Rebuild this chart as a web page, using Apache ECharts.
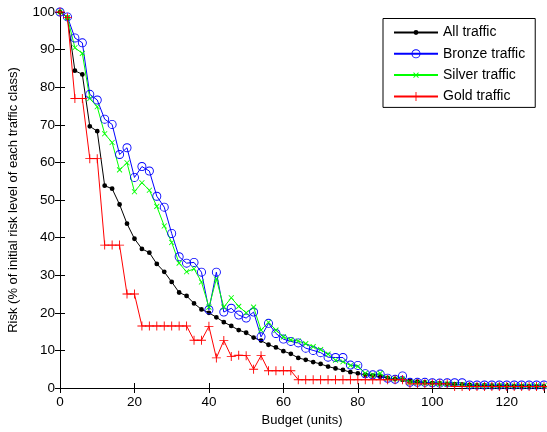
<!DOCTYPE html>
<html>
<head>
<meta charset="utf-8">
<script src="https://cdn.jsdelivr.net/npm/echarts@6/dist/echarts.min.js"></script>
<style>
html,body{margin:0;padding:0;background:#fff;}
#chart{width:547px;height:432px;}
</style>
</head>
<body>
<div id="chart"></div>
<script>
const budget = [0,2,4,6,8,10,12,14,16,18,20,22,24,26,28,30,32,34,36,38,40,42,44,46,48,50,52,54,56,58,60,62,64,66,68,70,72,74,76,78,80,82,84,86,88,90,92,94,96,98,100,102,104,106,108,110,112,114,116,118,120,122,124,126,128,130];
const allTraffic = [100,98.5,84.4,83.4,69.6,68.3,53.8,53,48.8,43.7,
  39.7,37,36,33,30.9,28.2,25.4,24.5,22.5,20.9,
  20,18.8,17.5,16.5,15.4,14.7,13.4,12.6,11.5,10.8,
  9.8,9.1,8,7.5,6.9,6.4,5.7,5.2,4.8,4.2,
  3.9,3.5,3.3,3.0,2.7,2.4,2.2,1.9,1.7,1.5,
  1.3,1.2,1.1,1.0,0.9,0.8,0.7,0.7,0.6,0.6,
  0.5,0.5,0.5,0.4,0.4,0.4];
const bronze = [100,98.7,93.1,91.8,78.1,76.6,71.5,70.1,62.1,63.9,
  56,58.9,57.7,51,48.1,41.1,34.9,33.2,33.4,30.8,
  20.8,30.8,20.2,21.2,19.4,18.6,20.2,13.6,17.2,14.5,
  13,12.4,12,10.6,10,9.4,8.2,8.1,8.1,6.1,
  6.0,3.8,3.5,3.7,2.6,2.3,3.2,1.5,1.5,1.5,
  1.4,1.3,1.4,1.4,1.4,0.8,0.8,0.8,0.8,0.8,
  0.8,0.8,0.8,0.8,0.8,0.8];
const silver = [100,98.5,90.5,89,77,74.8,67.6,65.3,58,59.9,
  52.2,54.6,52.6,48.3,43.1,38.7,33.2,30.9,31.7,28.2,
  21.5,29,21.5,24,21.7,20,21.5,15.4,17.5,15.4,
  13.6,12.8,12.5,11.8,11,10.2,9,7.4,7,6,
  5.7,3.9,3.5,3.9,2.6,2.4,2.4,1.5,1.4,1.3,
  1.2,1.1,1.1,1.0,0.9,0.6,0.6,0.6,0.6,0.6,
  0.6,0.6,0.6,0.6,0.6,0.6];
const gold = [100,98.5,77,77,61,61,38,38,38,25,
  25,16.5,16.5,16.5,16.5,16.5,16.5,16.5,12.7,12.7,
  16.4,8,12.6,8.4,8.7,8.6,5,8.6,4.6,4.6,
  4.6,4.6,2.2,2.2,2.2,2.2,2.2,2.2,2.2,2.2,
  2.2,2.2,2.2,2.2,2.2,2.2,2.2,1.1,1.1,1.1,
  1.1,1.1,1.1,0.4,0.4,0.4,0.4,0.4,0.4,0.4,
  0.4,0.4,0.4,0.4,0.4,0.4];
const seriesNames = ['All traffic','Bronze traffic','Silver traffic','Gold traffic'];
const xLabel = 'Budget (units)';
const yLabel = 'Risk (% of initial risk level of each traffic class)';

const FONT = "'Liberation Sans', Arial, sans-serif";
// marker shapes drawn in a 10x10 box (corner anchors keep the box size)
const corners = 'M0,0L0,0ZM10,10L10,10Z';
const dot = 'path://' + corners + 'M5,2.6A2.4,2.4 0 1,1 5,7.4A2.4,2.4 0 1,1 5,2.6Z';
const ring = 'path://' + corners + 'M5,0.5A4.5,4.5 0 1,1 5,9.5A4.5,4.5 0 1,1 5,0.5ZM5,1.4A3.6,3.6 0 1,0 5,8.6A3.6,3.6 0 1,0 5,1.4Z';
const plus = 'path://' + corners + 'M4.55,0.5H5.45V9.5H4.55ZM0.5,4.55H9.5V5.45H0.5Z';
const cross = 'path://' + corners + 'M2.8,2.2L7.8,7.2L7.2,7.8L2.2,2.8ZM7.2,2.2L7.8,2.8L2.8,7.8L2.2,7.2Z';

function pairs(ys){ return budget.map((x,i)=>[x, ys[i]]); }
function mk(name, ys, color, symbol){
  return {
    name, type:'line', data: pairs(ys), symbol, symbolSize:10,
    showSymbol:true, showAllSymbol:true, animation:false, silent:true,
    lineStyle:{color, width:1}, itemStyle:{color, borderWidth:0},
    emphasis:{disabled:true}, z: 2
  };
}
const axisCommon = {
  axisLine:{show:true, lineStyle:{color:'#000', width:1}},
  axisTick:{show:true, inside:true, length:5, lineStyle:{color:'#000', width:1}},
  splitLine:{show:false}
};
const chart = echarts.init(document.getElementById('chart'), null, {renderer:'canvas'});
chart.setOption({
  backgroundColor:'#fff',
  animation:false,
  grid:{left:60, right:3, top:12, bottom:44, containLabel:false, outerBoundsMode:'none'},
  legend:{
    data: seriesNames, orient:'vertical', left:383, top:18.5,
    itemWidth:44, itemHeight:12.5, itemGap:7.3,
    padding:[7,10,4,10],
    borderColor:'#000', borderWidth:1, backgroundColor:'#fff',
    textStyle:{fontFamily:FONT, fontSize:14, color:'#000'},
    selectedMode:false
  },
  xAxis:[
    Object.assign({type:'value', min:0, max:130, interval:20, position:'bottom',
      name:xLabel, nameLocation:'middle', nameGap:23,
      nameTextStyle:{fontFamily:FONT, fontSize:13, color:'#000'},
      axisLabel:{fontFamily:FONT, fontSize:13.5, color:'#000', margin:7, showMaxLabel:false}}, axisCommon),
    Object.assign({type:'value', min:0, max:130, interval:20, position:'top',
      axisLabel:{show:false}}, axisCommon)
  ],
  yAxis:[
    Object.assign({type:'value', min:0, max:100, interval:10, position:'left',
      name:yLabel, nameLocation:'middle', nameGap:40,
      nameTextStyle:{fontFamily:FONT, fontSize:13, color:'#000'},
      axisLabel:{fontFamily:FONT, fontSize:13.5, color:'#000', margin:5}}, axisCommon),
    Object.assign({type:'value', min:0, max:100, interval:10, position:'right',
      axisLabel:{show:false}}, axisCommon)
  ],
  series:[
    mk(seriesNames[0], allTraffic, '#000000', dot),
    mk(seriesNames[1], bronze, '#0000ff', ring),
    mk(seriesNames[2], silver, '#00ff00', cross),
    mk(seriesNames[3], gold, '#ff0000', plus)
  ]
});
</script>
</body>
</html>
